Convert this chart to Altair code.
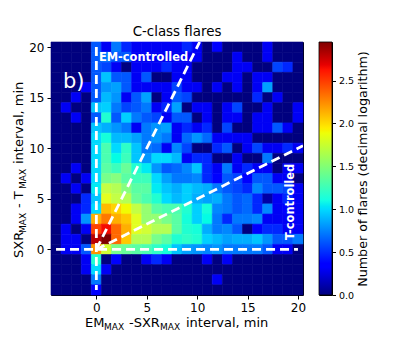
import numpy as np
import pandas as pd
import altair as alt

X_BINS = list(range(-4, 21))
Y_BINS = list(range(20, -5, -1))
ROWS = [
 [0,0,0,0,.5,.3,.6,.4,.3,.3,.3,.3,.3,.4,.3,0,.35,0,0,0,0,.3,0,0,0],
 [0,0,0,0,.5,.6,.5,.5,.3,.3,.3,.3,.3,.3,.3,0,0,0,.3,0,0,.3,0,0,0],
 [0,0,0,0,.5,.45,.3,0,.3,.3,.3,.4,.3,.3,0,0,0,0,.3,.3,0,0,.45,.4,0],
 [0,0,0,0,.5,.9,.5,.5,.3,.5,0,0,.3,.3,0,0,0,.3,.3,0,.3,.3,0,0,0],
 [0,0,0,.3,.5,.7,.75,.5,.3,.3,.3,.3,.45,.3,.3,0,.3,0,.3,0,.3,.75,0,0,0],
 [0,0,.3,0,.5,.85,.7,.3,.5,.75,0,.3,.5,.45,0,0,0,0,0,0,.4,0,.3,0,0],
 [0,.3,0,0,.9,.95,.6,.45,.5,.6,.3,.4,.75,0,.3,.3,0,.3,.45,0,0,.3,0,0,.3],
 [0,0,.3,0,.5,1.2,.5,.95,.6,.5,.45,.3,.5,.5,0,.3,0,.3,.3,0,.3,.3,0,0,.3],
 [0,0,0,0,.9,.8,.7,.6,.3,.6,.7,.75,.3,.4,.3,.4,0,.45,0,0,.3,.3,.5,.3,0],
 [0,0,0,0,1.0,1.15,.85,.85,.75,.6,.7,.6,.3,.55,.7,.55,.3,.3,.3,.3,0,0,0,0,0],
 [0,0,0,0,1.0,1.35,1.0,1.25,.9,.6,.55,.3,.65,.45,0,0,.4,.5,0,.3,.45,.3,.3,.4,.3],
 [0,0,0,0,1.0,1.35,1.1,1.3,.9,.7,1.0,1.0,.85,.3,.4,.4,0,0,.3,0,0,.6,0,0,0],
 [0,0,.3,0,1.0,1.4,1.3,1.45,1.2,1.05,.7,.5,.55,.65,.9,.4,.3,.6,.3,.4,.3,.3,0,.3,.3],
 [0,.3,0,.3,1.0,1.5,1.55,1.4,1.3,1.3,1.0,.75,.6,.6,.65,.4,.35,.5,.45,.35,.5,.5,.3,.3,0],
 [0,0,.3,0,1.05,1.75,1.7,1.55,1.4,1.4,1.05,.9,.8,.95,.85,.8,.6,.5,.45,.4,.65,.5,.5,.45,.3],
 [0,0,0,.4,.9,1.85,1.75,1.7,1.45,1.35,1.2,1.0,.85,.95,.8,.75,.8,.6,.5,.55,.4,.1,.3,.4,.3],
 [0,0,.3,.4,1.0,2.15,2.05,1.9,1.75,1.6,1.4,1.35,1.35,1.2,.95,1.15,.65,.6,.5,.55,.4,.65,.3,.35,.3],
 [0,0,.3,.7,2.2,2.4,2.2,2.1,1.85,1.6,1.6,1.5,1.4,1.15,.95,1.1,.6,.4,.6,.6,.65,.3,.3,.3,.3],
 [0,.3,0,.3,2.55,2.65,2.45,2.2,1.85,1.8,1.7,1.7,1.4,1.2,1.15,.8,.6,.65,.5,0,.35,.4,.4,.3,.3],
 [0,.3,.3,0,2.8,2.95,2.45,2.1,1.7,1.7,1.5,1.4,1.2,1.25,1.2,.95,.85,.75,.8,.8,.9,.7,.5,.5,.6],
 [0,.3,.3,.5,2.3,1.8,1.5,1.45,1.4,1.35,1.25,1.15,.9,.75,.7,.65,.7,.6,.6,.6,.6,.5,.3,.3,0],
 [0,0,0,.3,1.2,0,.35,0,0,.3,.4,.3,0,0,0,.3,0,.3,0,0,0,0,0,0,0],
 [0,0,0,.3,1.0,.3,0,0,0,0,0,0,0,0,0,0,0,0,0,0,0,0,0,0,0],
 [0,0,0,0,.6,0,0,0,0,0,0,0,0,0,0,0,.3,0,0,0,0,0,0,0,0],
 [0,0,0,0,.35,0,0,0,0,0,0,0,0,0,0,0,0,0,0,0,0,0,0,0,0],
]
H_LINE_X = [-4, 20]
H_LINE_Y = [0, 0]
V_LINE_X = [0, 0]
V_LINE_Y = [20, -4]
STEEP_X = [0, 10.25]
STEEP_Y = [0, 20.5]
SHALLOW_X = [0, 20.5]
SHALLOW_Y = [0, 10.25]
TICKS = [0, 5, 10, 15, 20]
CB_TICKS = [0, 0.5, 1.0, 1.5, 2.0, 2.5]
VMAX = 2.95
FONT = "DejaVu Sans"

stops = [0, .11, .125, .34, .35, .375, .64, .65, .66, .89, .91, 1]
def jet(t):
    r = np.interp(t, [0, .35, .66, .89, 1], [0, 0, 1, 1, .5])
    g = np.interp(t, [0, .125, .375, .64, .91, 1], [0, 0, 1, 1, 0, 0])
    b = np.interp(t, [0, .11, .34, .65, 1], [.5, 1, 1, 0, 0])
    return "#%02x%02x%02x" % (int(r * 255), int(g * 255), int(b * 255))
jet_hex = [jet(t) for t in stops]

cells = pd.DataFrame(
    [{"x": x - .5, "x2": x + .5, "y": y - .5, "y2": y + .5, "v": v}
     for y, row in zip(Y_BINS, ROWS) for x, v in zip(X_BINS, row)]
)
xs = alt.Scale(domain=[-4.5, 20.5], nice=False, zero=False)
ys = alt.Scale(domain=[-4.5, 20.5], nice=False, zero=False)
xax = alt.Axis(values=TICKS, title=None, grid=False, tickSize=4, labelFontSize=12, labelFont=FONT,
               tickColor="black", domain=False, labelColor="black", labelPadding=3, labelFlush=False, labelOverlap=False)
yax = alt.Axis(values=TICKS, title=None, grid=False, tickSize=4, labelFontSize=12, labelFont=FONT,
               tickColor="black", domain=False, labelColor="black", labelPadding=3, labelOverlap=False)

cscale = alt.Scale(domain=[VMAX * s for s in stops], range=jet_hex)
heat = alt.Chart(cells).mark_rect(strokeWidth=0.6).encode(
    x=alt.X("x:Q", scale=xs, axis=xax), x2="x2:Q",
    y=alt.Y("y:Q", scale=ys, axis=yax), y2="y2:Q",
    color=alt.Color("v:Q", legend=None, scale=cscale),
    stroke=alt.Stroke("v:Q", legend=None, scale=cscale),
)

def dashed(xv, yv):
    d = pd.DataFrame({"x": xv, "y": yv, "o": range(len(xv))})
    return alt.Chart(d).mark_line(color="white", strokeWidth=2.8, strokeDash=[9, 5], clip=True).encode(
        x=alt.X("x:Q", scale=xs), y=alt.Y("y:Q", scale=ys), order="o:O")

def label(text, px, py, size=13, color="black", weight="normal", angle=0, align="left"):
    return alt.Chart(pd.DataFrame({"t": [text]})).mark_text(
        font=FONT, fontSize=size, color=color, fontWeight=weight, angle=angle,
        align=align, baseline="alphabetic").encode(x=alt.value(px), y=alt.value(py), text="t:N")

lines = [dashed(H_LINE_X, H_LINE_Y), dashed(V_LINE_X, V_LINE_Y),
         dashed(STEEP_X, STEEP_Y), dashed(SHALLOW_X, SHALLOW_Y)]
texts = [
    label("C-class flares", 126, -6, 13.4, align="center"),
    label("b)", 12, 46, 21, "white"),
    label("EM-controlled", 48, 19, 11.4, "white", "bold"),
    label("T-controlled", 243, 198, 11.4, "white", "bold", angle=270),
    label("EM", 34, 285), label("MAX", 53, 288, 9),
    label("-SXR", 78, 285), label("MAX", 109, 288, 9),
    label("interval, min", 135, 285),
    label("SXR", -28, 216, angle=270), label("MAX", -25, 191, 9, angle=270),
    label("- T", -28, 166, angle=270), label("MAX", -25, 147, 9, angle=270),
    label("interval, min", -28, 122, angle=270),
]
main = alt.layer(heat, *lines, *texts).properties(width=252, height=253)

bar_df = pd.DataFrame({"a": [0.0], "b": [VMAX]})
grad = alt.Gradient(gradient="linear", x1=0, x2=0, y1=1, y2=0,
                    stops=[alt.GradientStop(color=c, offset=s) for c, s in zip(jet_hex, stops)])
bar = alt.Chart(bar_df).mark_rect(color=grad, stroke="black", strokeWidth=0.8).encode(
    y=alt.Y("a:Q", scale=alt.Scale(domain=[0, VMAX], nice=False),
            axis=alt.Axis(values=CB_TICKS, format=".1f", orient="right", grid=False, tickSize=3.5,
                          labelFontSize=9.5, labelFont=FONT, domain=False, labelPadding=3,
                          title="Number of flares (decimal logarithm)", titleFont=FONT, titleFontSize=12.7,
                          titleFontWeight="normal", titleAngle=270, titlePadding=16, titleColor="black",
                          labelColor="black", tickColor="black", labelOverlap=False)),
    y2="b:Q",
).properties(width=13, height=253)

chart = alt.hconcat(main, bar, spacing=11).properties(padding={"left": 4, "top": 16, "right": 0, "bottom": 0}).configure_view(
    stroke="black", strokeWidth=1
)
chart.save("out.html", embed_options={"renderer": "svg", "actions": False})
